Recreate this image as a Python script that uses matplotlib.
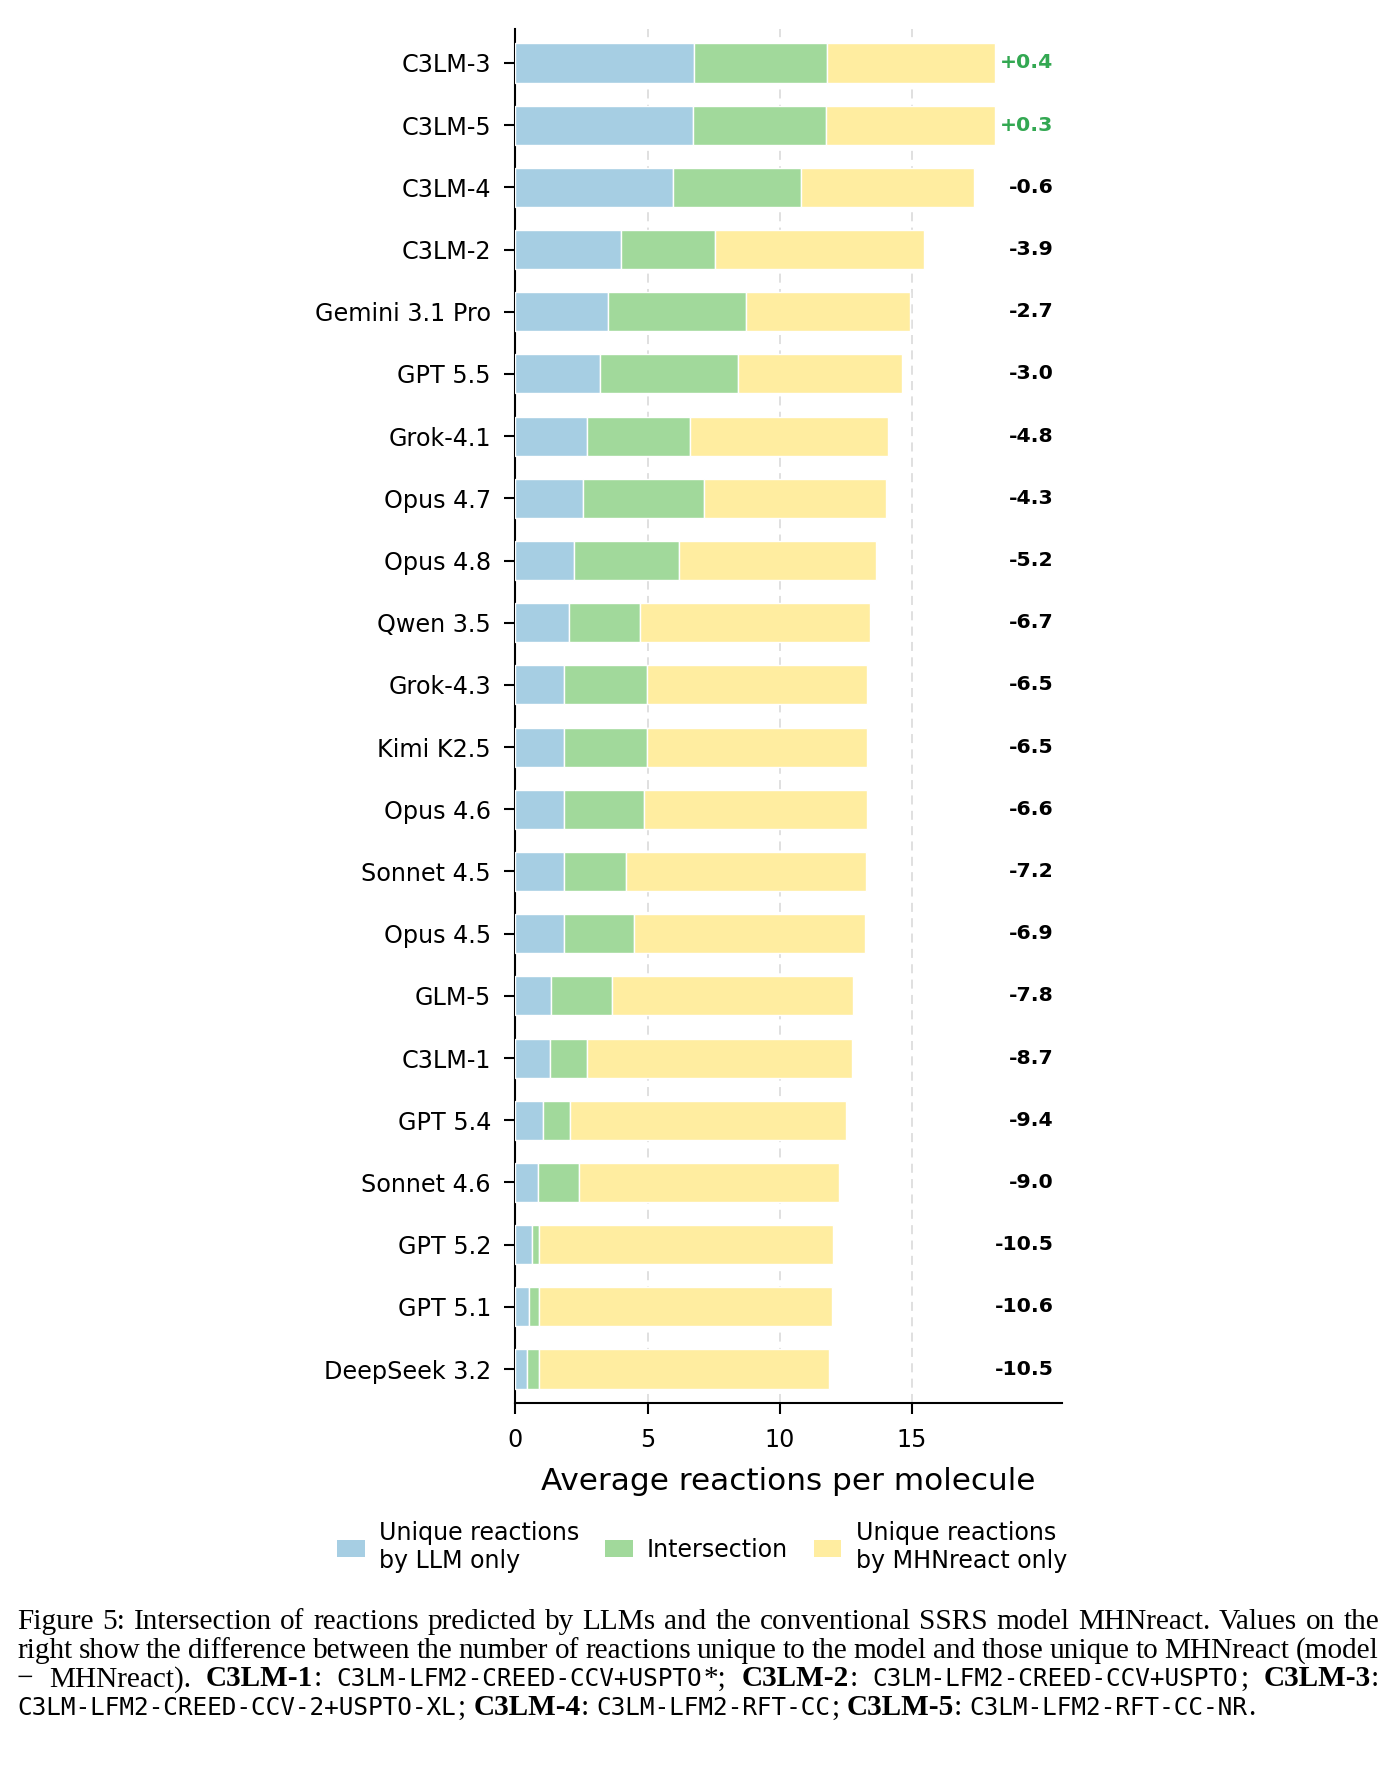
import matplotlib
matplotlib.use('Agg')
import matplotlib.pyplot as plt
from matplotlib.patches import Patch
from matplotlib.font_manager import FontProperties
import numpy as np

models = ["C3LM-3", "C3LM-5", "C3LM-4", "C3LM-2", "Gemini 3.1 Pro", "GPT 5.5",
          "Grok-4.1", "Opus 4.7", "Opus 4.8", "Qwen 3.5", "Grok-4.3", "Kimi K2.5",
          "Opus 4.6", "Sonnet 4.5", "Opus 4.5", "GLM-5", "C3LM-1", "GPT 5.4",
          "Sonnet 4.6", "GPT 5.2", "GPT 5.1", "DeepSeek 3.2"]
llm_only = [6.74, 6.71, 5.97, 4.00, 3.52, 3.22, 2.72, 2.57, 2.23, 2.02, 1.86, 1.86,
            1.84, 1.86, 1.84, 1.34, 1.30, 1.05, 0.85, 0.62, 0.52, 0.43]
intersection = [5.04, 5.03, 4.84, 3.55, 5.20, 5.20, 3.89, 4.56, 3.97, 2.68, 3.11, 3.11,
                3.04, 2.32, 2.65, 2.32, 1.40, 1.02, 1.55, 0.28, 0.36, 0.47]
mhn_only = [6.37, 6.38, 6.54, 7.90, 6.21, 6.20, 7.48, 6.87, 7.43, 8.72, 8.31, 8.31,
            8.42, 9.09, 8.75, 9.12, 10.02, 10.43, 9.85, 11.12, 11.08, 10.95]
diff_labels = [0.4, 0.3, -0.6, -3.9, -2.7, -3.0, -4.8, -4.3, -5.2, -6.7, -6.5, -6.5,
               -6.6, -7.2, -6.9, -7.8, -8.7, -9.4, -9.0, -10.5, -10.6, -10.5]
legend_labels = ["Unique reactions\nby LLM only", "Intersection",
                 "Unique reactions\nby MHNreact only"]
xticks = [0, 5, 10, 15]

C_BLUE, C_GREEN, C_YELLOW = "#a6cee3", "#a1d99b", "#ffeda0"
C_POS = "#33a852"

W, H = 1396, 1792
fig = plt.figure(figsize=(W / 100, H / 100), dpi=100)
plt.rcParams['font.family'] = ['DejaVu Sans']

ax = fig.add_axes([515.3 / W, 1 - 1403.3 / H, (1061.7 - 515.3) / W, (1403.3 - 28.7) / H])
y = np.arange(len(models))
llm = np.array(llm_only)
inter = np.array(intersection)
mhn = np.array(mhn_only)
bh = 0.63
ax.barh(y, llm, height=bh, color=C_BLUE, edgecolor='white', linewidth=1.0, zorder=3)
ax.barh(y, inter, left=llm, height=bh, color=C_GREEN, edgecolor='white', linewidth=1.0, zorder=3)
ax.barh(y, mhn, left=llm + inter, height=bh, color=C_YELLOW, edgecolor='white', linewidth=1.0, zorder=3)

for yi, d in zip(y, diff_labels):
    ax.text(20.35, yi, f"{d:+.1f}", ha='right', va='center', fontsize=14.7,
            fontweight='bold', color=C_POS if d > 0 else 'black', zorder=4)

ax.set_xlim(0, 20.66)
ax.set_ylim(len(models) - 1 + 0.55, -0.55)
ax.set_yticks(y)
ax.set_yticklabels(models)
ax.set_xticks(xticks)
ax.set_xticklabels([str(t) for t in xticks])
ax.tick_params(axis='both', labelsize=17.2, length=8, width=1.5, pad=9.5, color='black')
ax.xaxis.grid(True, linestyle=(0, (5, 3.5)), color='#dddddd', linewidth=1.3, zorder=0)
ax.set_axisbelow(True)
for s in ['top', 'right']:
    ax.spines[s].set_visible(False)
for s in ['left', 'bottom']:
    ax.spines[s].set_linewidth(1.5)
ax.set_xlabel("Average reactions per molecule", fontsize=22.4, labelpad=11)

handles = [Patch(facecolor=c, edgecolor='none') for c in (C_BLUE, C_GREEN, C_YELLOW)]
fig.legend(handles, legend_labels, loc='center', bbox_to_anchor=(0.503, 1 - 1547 / H),
           ncol=3, frameon=False, fontsize=17.1, handlelength=1.15, handleheight=0.7,
           handletextpad=0.6, columnspacing=1.1)

# ---------------- caption ----------------
SERIF = ['Liberation Serif', 'DejaVu Serif']
MONO = ['DejaVu Sans Mono']
cap_lines = [
    ("Figure 5: Intersection of reactions predicted by LLMs and the conventional SSRS model MHNreact. Values on the", True),
    ("right show the difference between the number of reactions unique to the model and those unique to MHNreact (model", True),
    ("\u2212 MHNreact). **C3LM-1**: `C3LM-LFM2-CREED-CCV+USPTO`*; **C3LM-2**: `C3LM-LFM2-CREED-CCV+USPTO`; **C3LM-3**:", True),
    ("`C3LM-LFM2-CREED-CCV-2+USPTO-XL`; **C3LM-4**: `C3LM-LFM2-RFT-CC`; **C3LM-5**: `C3LM-LFM2-RFT-CC-NR`.", False),
]
baselines = [1629.0, 1657.6, 1686.2, 1714.8]
x_left, x_right = 17.0, 1379.0


def parse_word(w):
    segs = []
    i = 0
    while i < len(w):
        if w.startswith('**', i):
            j = w.index('**', i + 2)
            segs.append((w[i + 2:j], 'b'))
            i = j + 2
        elif w[i] == '`':
            j = w.index('`', i + 1)
            segs.append((w[i + 1:j], 'm'))
            i = j + 1
        else:
            j = i
            while j < len(w) and not w.startswith('**', j) and w[j] != '`':
                j += 1
            segs.append((w[i:j], 'r'))
            i = j
    return segs


renderer = fig.canvas.get_renderer()
BASE = 20.0
props = {
    'r': FontProperties(family=SERIF, size=BASE),
    'b': FontProperties(family=SERIF, size=BASE, weight='bold'),
    'm': FontProperties(family=MONO, size=BASE),
}
_cache = {}


def base_width(txt, st):
    key = (txt, st)
    if key not in _cache:
        w, h, d = renderer.get_text_width_height_descent(txt, props[st], ismath=False)
        _cache[key] = w
    return _cache[key]


parsed = [([parse_word(w) for w in line.split(' ')], just) for line, just in cap_lines]


def words_width(words, s_size, m_size):
    tot = 0.0
    for wd in words:
        for t, s in wd:
            size = m_size if s == 'm' else s_size
            tot += base_width(t, s) * size / BASE
    return tot


def natural(words, s_size, m_size):
    return words_width(words, s_size, m_size) + (len(words) - 1) * 0.25 * s_size * 100 / 72


# fit serif size to first line (pure serif), mono size to last (natural) line
lo, hi = 10.0, 30.0
for _ in range(40):
    mid = (lo + hi) / 2
    if natural(parsed[0][0], mid, mid) > 1342:
        hi = mid
    else:
        lo = mid
SERIF_SIZE = lo
lo, hi = 8.0, 30.0
for _ in range(40):
    mid = (lo + hi) / 2
    if natural(parsed[3][0], SERIF_SIZE, mid) > 1239:
        hi = mid
    else:
        lo = mid
MONO_SIZE = lo

styles = {
    'r': dict(family=SERIF, fontsize=SERIF_SIZE),
    'b': dict(family=SERIF, fontsize=SERIF_SIZE, fontweight='bold'),
    'm': dict(family=MONO, fontsize=MONO_SIZE),
}

space_w = 0.25 * SERIF_SIZE * 100 / 72
for (words, justify), yb in zip(parsed, baselines):
    total = words_width(words, SERIF_SIZE, MONO_SIZE)
    if justify:
        gap = (x_right - x_left - total) / (len(words) - 1)
    else:
        gap = space_w
    x = x_left
    for wd in words:
        for t, s in wd:
            fig.text(x / W, 1 - yb / H, t, ha='left', va='baseline', **styles[s])
            size = MONO_SIZE if s == 'm' else SERIF_SIZE
            x += base_width(t, s) * size / BASE
        x += gap

fig.savefig('out.png', dpi=100)
